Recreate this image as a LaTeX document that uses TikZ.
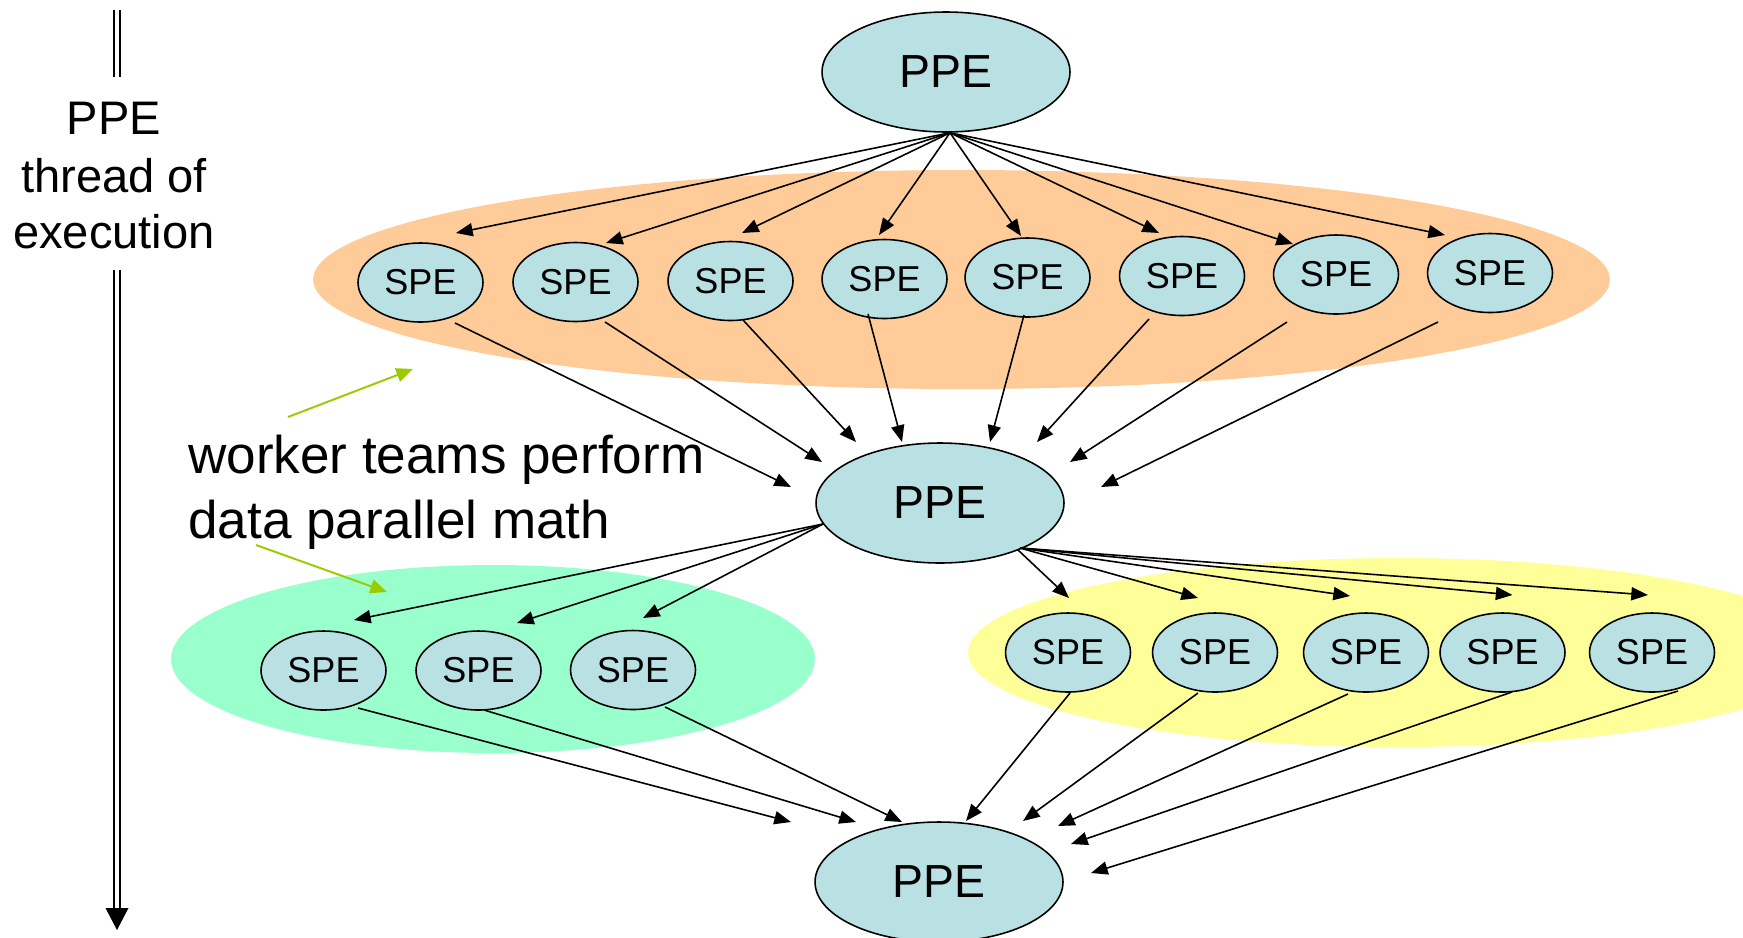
\documentclass[tikz,border=0pt]{standalone}
\usepackage{fontspec}
\setmainfont{Liberation Sans}
\usetikzlibrary{shapes.geometric,arrows.meta,calc}
\definecolor{nodefill}{RGB}{185,224,227}
\definecolor{teamorange}{RGB}{255,204,153}
\definecolor{teamgreen}{RGB}{153,255,204}
\definecolor{teamyellow}{RGB}{255,255,153}
\definecolor{notegreen}{RGB}{153,204,0}
\begin{document}
\begin{tikzpicture}[x=0.02cm,y=-0.02cm,
  spe/.style={ellipse,draw=black,line width=0.9pt,fill=nodefill,inner sep=0pt,
    minimum width=2.5cm,minimum height=1.58cm,font=\fontsize{20.5}{24}\selectfont},
  ppe/.style={ellipse,draw=black,line width=0.9pt,fill=nodefill,inner sep=0pt,
    minimum width=4.96cm,minimum height=2.4cm,font=\fontsize{26.4}{30}\selectfont},
  arr/.style={line width=0.9pt,-{Triangle[length=9.5pt,width=7.5pt]}},
  notearr/.style={line width=1.1pt,draw=notegreen,-{Triangle[length=9.5pt,width=8pt]}},
  sidetext/.style={anchor=base,inner sep=0pt,font=\fontsize{26.8}{32}\selectfont},
  notetext/.style={anchor=base west,inner sep=0pt,font=\fontsize{30.2}{37}\selectfont},
  threadline/.style={double,line width=1.1pt,double distance=2.3pt}]
\useasboundingbox (0,0) rectangle (1743,937);
\begin{scope}
\clip (0,0) rectangle (1743,937);
% team backgrounds
\fill[teamorange] (961.5,279.5) ellipse [x radius=12.97cm, y radius=2.19cm];
\fill[teamgreen] (493,659) ellipse [x radius=6.44cm, y radius=1.88cm];
\fill[teamyellow] (1398,652.5) ellipse [x radius=8.6cm, y radius=1.89cm];

% PPE nodes
\node[ppe] (p1) at (946,72) {PPE};
\node[ppe] (p2) at (940,503) {PPE};
\node[ppe] (p3) at (939,882) {PPE};

% top SPE row
\node[spe] (s1) at (420.5,282.5) {SPE};
\node[spe] (s2) at (575.5,282) {SPE};
\node[spe] (s3) at (730.5,281) {SPE};
\node[spe] (s4) at (884.5,279) {SPE};
\node[spe] (s5) at (1027.5,277.5) {SPE};
\node[spe] (s6) at (1182,276) {SPE};
\node[spe] (s7) at (1336,274.5) {SPE};
\node[spe] (s8) at (1490,273) {SPE};

% green team
\node[spe] (g1) at (323.5,670.5) {SPE};
\node[spe] (g2) at (478.5,670.5) {SPE};
\node[spe] (g3) at (633,670) {SPE};

% yellow team
\node[spe] (y1) at (1068,652.5) {SPE};
\node[spe] (y2) at (1215,652.5) {SPE};
\node[spe] (y3) at (1366,652.5) {SPE};
\node[spe] (y4) at (1502.5,652.5) {SPE};
\node[spe] (y5) at (1652,652.5) {SPE};

% PPE1 -> top SPEs
\draw[arr] ($(p1.south)+(4,0)$) -- ($(s1)+(35.5,-49.5)$);
\draw[arr] ($(p1.south)+(4,0)$) -- ($(s2)+(30.5,-39)$);
\draw[arr] ($(p1.south)+(4,0)$) -- ($(s3)+(11.5,-48)$);
\draw[arr] ($(p1.south)+(4,0)$) -- ($(s4)+(-5.5,-44)$);
\draw[arr] ($(p1.south)+(4,0)$) -- ($(s5)+(-6.5,-41.5)$);
\draw[arr] ($(p1.south)+(4,0)$) -- ($(s6)+(-23,-43)$);
\draw[arr] ($(p1.south)+(4,0)$) -- ($(s7)+(-43,-30.5)$);
\draw[arr] ($(p1.south)+(4,0)$) -- ($(s8)+(-45,-38)$);

% top SPEs -> PPE2
\draw[arr] ($(s1)+(34.5,40.5)$) -- ($(p2)+(-149,-16)$);
\draw[arr] ($(s2)+(29.5,40)$) -- ($(p2)+(-118,-41)$);
\draw[arr] ($(s3)+(12.5,39)$) -- ($(p2)+(-84,-61)$);
\draw[arr] ($(s4)+(-16.5,35)$) -- ($(p2)+(-38,-61)$);
\draw[arr] ($(s5)+(-3.5,37.5)$) -- ($(p2)+(50,-61)$);
\draw[arr] ($(s6)+(-33,43)$) -- ($(p2)+(97,-61)$);
\draw[arr] ($(s7)+(-49,47.5)$) -- ($(p2)+(130,-41)$);
\draw[arr] ($(s8)+(-52,49)$) -- ($(p2)+(161,-16)$);

% PPE2 -> green team
\draw[arr] ($(p2)+(-117,21)$) -- ($(g1)+(30.5,-50.5)$);
\draw[arr] ($(p2)+(-117,21)$) -- ($(g2)+(38.5,-47.5)$);
\draw[arr] ($(p2)+(-117,21)$) -- ($(g3)+(10,-52)$);

% PPE2 -> yellow team
\draw[arr] ($(p2)+(78,47)$) -- ($(y1)+(1,-54.5)$);
\draw[arr] ($(p2)+(80,45)$) -- ($(y2)+(-17,-54.5)$);
\draw[arr] ($(p2)+(80,45)$) -- ($(y3)+(-16,-56.5)$);
\draw[arr] ($(p2)+(80,45)$) -- ($(y4)+(10,-57.5)$);
\draw[arr] ($(p2)+(80,45)$) -- ($(y5)+(-4,-57.5)$);

% green team -> PPE3
\draw[arr] ($(g1)+(34.5,37.5)$) -- ($(p3)+(-148,-60)$);
\draw[arr] ($(g2)+(5.5,39.5)$) -- ($(p3)+(-83,-60)$);
\draw[arr] ($(g3)+(32,37)$) -- ($(p3)+(-37,-60)$);

% yellow team -> PPE3
\draw[arr] ($(y1)+(2,40.5)$) -- ($(p3)+(27,-61)$);
\draw[arr] ($(y2)+(-17,40.5)$) -- ($(p3)+(84,-61)$);
\draw[arr] ($(y3)+(-18,41.5)$) -- ($(p3)+(119,-56)$);
\draw[arr] ($(y4)+(9.5,39.5)$) -- ($(p3)+(132,-38)$);
\draw[arr] ($(y5)+(26,38.5)$) -- ($(p3)+(152,-9)$);

% annotation
\node[notetext] (n1) at (188,473) {worker teams perform};
\node[notetext] (n2) at (188,538) {data parallel math};
\coordinate (a1s) at (288,417);
\coordinate (a1e) at (413,369);
\coordinate (a2s) at (256,545);
\coordinate (a2e) at (387,592);
\draw[notearr] (a1s) -- (a1e);
\draw[notearr] (a2s) -- (a2e);

% thread of execution
\node[sidetext] (t1) at (114,134) {PPE};
\node[sidetext] (t2) at (114,192) {thread of};
\node[sidetext] (t3) at (114,248) {execution};
\coordinate (d1) at (117,10);
\coordinate (d2) at (117,77);
\coordinate (d3) at (117,270);
\coordinate (d4) at (117,908);
\draw[threadline] (d1) -- (d2);
\draw[threadline] (d3) -- (d4);
\fill ($(d4)+(-11.5,0)$) -- ($(d4)+(11.5,0)$) -- ($(d4)+(0,22)$) -- cycle;
\end{scope}
\end{tikzpicture}
\end{document}
